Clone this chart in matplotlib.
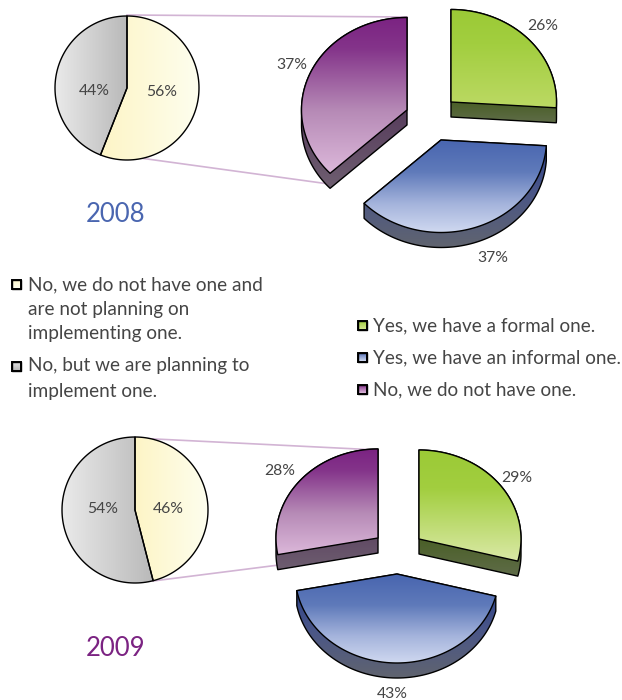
import numpy as np
import matplotlib
matplotlib.use("Agg")
import matplotlib.pyplot as plt
from matplotlib.colors import to_rgb
from matplotlib.patches import Polygon

# ---- data ----
years = ["2008", "2009"]
small_labels = [["No, we do not have one and", "are not planning on", "implementing one."],
                ["No, but we are planning to", "implement one."]]
big_labels = ["Yes, we have a formal one.", "Yes, we have an informal one.", "No, we do not have one."]
small_2008 = [56, 44]
small_2009 = [46, 54]
big_2008 = [26, 37, 37]
big_2009 = [29, 43, 28]

FONT = "Lato"
TXT = "#454545"
EDGE = "#000000"
plt.rcParams["font.family"] = FONT

fig = plt.figure(figsize=(6.22, 7.0), dpi=100)
ax = fig.add_axes([0, 0, 1, 1])
ax.set_xlim(0, 622)
ax.set_ylim(700, 0)
ax.axis("off")


def gradient(path_xy, stops, vertical=True, span=None, z=2):
    pts = np.asarray(path_xy)
    x0, y0 = pts.min(axis=0)
    x1, y1 = pts.max(axis=0)
    lo, hi = span if span else ((y0, y1) if vertical else (x0, x1))
    n = 256
    pos = np.linspace(y0, y1, n) if vertical else np.linspace(x0, x1, n)
    fr = (pos - lo) / max(hi - lo, 1e-6)
    fs = [s[0] for s in stops]
    cs = np.array([to_rgb(s[1]) for s in stops])
    arr = np.stack([np.interp(fr, fs, cs[:, i]) for i in range(3)], axis=-1)
    arr = arr[:, None, :] if vertical else arr[None, :, :]
    im = ax.imshow(arr, extent=(x0, x1, y1, y0), origin="upper", aspect="auto",
                   interpolation="bilinear", zorder=z)
    clip = Polygon(pts, closed=True, transform=ax.transData, fc="none", ec="none")
    ax.add_patch(clip)
    im.set_clip_path(clip)
    ax.add_patch(Polygon(pts, closed=True, fc="none", ec=EDGE, lw=1.0, zorder=z + 0.1,
                         joinstyle="round"))


def wedge_pts(cx, cy, rx, ry, a0, a1):
    t = np.radians(np.linspace(a0, a1, 100))
    arc = np.column_stack([cx + rx * np.sin(t), cy - ry * np.cos(t)])
    return np.vstack([[cx, cy], arc])


def hull(points):
    p = sorted(map(tuple, points))

    def half(seq):
        out = []
        for q in seq:
            while len(out) > 1 and ((out[-1][0] - out[-2][0]) * (q[1] - out[-2][1])
                                    - (out[-1][1] - out[-2][1]) * (q[0] - out[-2][0])) <= 0:
                out.pop()
            out.append(q)
        return out[:-1]
    return np.array(half(p) + half(p[::-1]))


YELLOW = [(0, "#fdf5c6"), (1, "#fefeee")]
GREY = [(0, "#eaeaea"), (1, "#b9b9b9")]


def small_pie(vals, cx, cy, r):
    a = 0
    for v, st in zip(vals, (YELLOW, GREY)):
        b = a + v * 3.6
        gradient(wedge_pts(cx, cy, r, r, a, b), st, vertical=False, z=3)
        a = b


DEPTH = 15
BLUE_SIDE = [(0, "#2f4488"), (0.45, "#4a5688"), (1, "#60646f")]
PURPLE_SIDE = [(0, "#3c1545"), (1, "#6e5e70")]
GREEN_SIDE = [(0, "#4a5f27"), (1, "#5f6c48")]
BLUE_TOP = [(0, "#4865af"), (0.35, "#5f7aba"), (0.7, "#a5b4dc"), (1, "#cfd8f0")]
PURPLE_TOP = [(0, "#7b2382"), (0.2, "#84348a"), (0.6, "#b68ab6"), (1, "#dcb8da")]


def big_pie(vals, centers, rx, ry, green_end):
    green_top = [(0, "#9bca36"), (0.35, "#a2ce3f"), (1, green_end)]
    tops = [green_top, BLUE_TOP, PURPLE_TOP]
    sides = [GREEN_SIDE, BLUE_SIDE, PURPLE_SIDE]
    a = 0
    for v, (cx, cy), top, side in zip(vals, centers, tops, sides):
        b = a + v * 3.6
        w = wedge_pts(cx, cy, rx, ry, a, b)
        h = hull(np.vstack([w, w + [0, DEPTH]]))
        y0 = max(min(cy, w[-1][1]), min(w[1][1], w[-1][1]))
        gradient(h, side, span=(y0, h[:, 1].max()), z=3)
        gradient(w, top, z=4)
        a = b


# connector lines
LINK = "#d2b4d4"
for xs, ys in [((127, 407), (15, 17)), ((140, 329), (158, 184)),
               ((135, 378), (438, 450)), ((153, 279), (581, 565))]:
    ax.plot(xs, ys, color=LINK, lw=1.2, zorder=1)

small_pie(small_2008, 127, 88, 72)
small_pie(small_2009, 135, 510, 73)
big_pie(big_2008, [(451, 102), (441, 140), (407, 110)], 105.5, 92.5, "#bcd964")
big_pie(big_2009, [(419, 539), (397, 574), (378, 538)], 102, 89, "#dae9a6")


def lab(x, y, s, **kw):
    kw.setdefault("fontsize", 11.3)
    kw.setdefault("color", TXT)
    ax.text(x, y, s, ha="center", va="center", zorder=6, **kw)


pos_s = [[(162, 92), (94, 91)], [(168, 509), (103, 509)]]
pos_b = [[(543, 26), (493, 258), (292, 65)], [(517, 478), (392, 694), (280, 471)]]
for vals, ps in zip((small_2008, small_2009, big_2008, big_2009),
                    (pos_s[0], pos_s[1], pos_b[0], pos_b[1])):
    for v, p in zip(vals, ps):
        lab(p[0], p[1], f"{v}%")

lab(116, 214, years[0], fontsize=18.5, color="#4a66b0")
lab(116, 648, years[1], fontsize=18.5, color="#7b2382")


# legends
def marker(x, y, stops):
    s = 4.5
    sq = [(x - s, y - s), (x + s, y - s), (x + s, y + s), (x - s, y + s)]
    gradient(sq, stops, z=5)
    ax.add_patch(Polygon(sq, closed=True, fc="none", ec=EDGE, lw=1.4, zorder=6))


LS = 13.7
marker(16, 284, YELLOW)
marker(16, 366, GREY)
for y, s in zip((285, 310, 334, 366, 391), small_labels[0] + small_labels[1]):
    ax.text(28, y, s, fontsize=LS, color=TXT, va="center")

marker(362, 325, [(0, "#9bca36"), (1, "#d0e48c")])
marker(362, 357, [(0, "#4865af"), (1, "#cfd8f0")])
marker(362, 389, [(0, "#7b2382"), (1, "#dcb8da")])
for y, s in zip((326, 358, 390), big_labels):
    ax.text(373, y, s, fontsize=LS - 0.1, color=TXT, va="center")

ax.set_xlim(0, 622)
ax.set_ylim(700, 0)
fig.savefig("out.png", dpi=100, facecolor="white")
